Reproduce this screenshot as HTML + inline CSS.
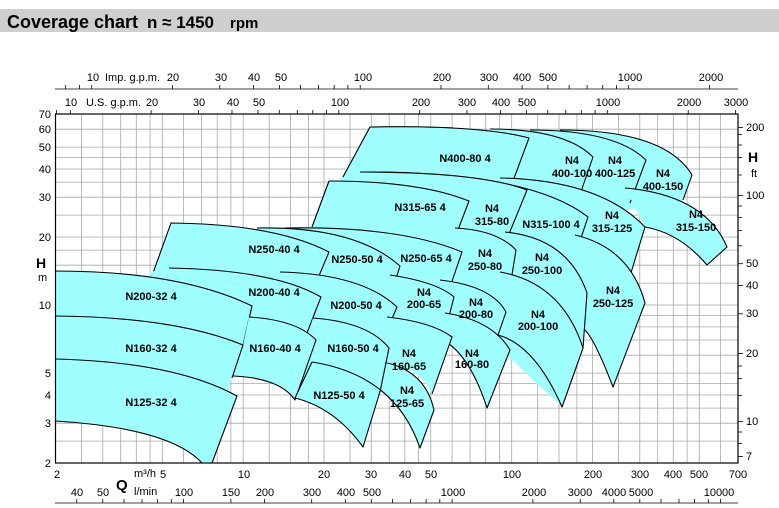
<!DOCTYPE html>
<html><head><meta charset="utf-8"><style>
html,body{margin:0;padding:0;background:#fff;}
svg{display:block;font-family:"Liberation Sans",Arial,sans-serif;}
.g line{stroke:#a8a8a8;stroke-width:0.8}
.f{fill:#9ffefe;stroke:none}
.s{fill:none;stroke:#000;stroke-width:1.1;stroke-linejoin:round}
.l text{font-size:11px;font-weight:bold;text-anchor:middle;fill:#000}
.t{font-size:11px;fill:#000}
.tm{font-size:11px;fill:#000;text-anchor:middle}
.te{font-size:11px;fill:#000;text-anchor:end}
</style></head><body>
<svg width="779" height="508" viewBox="0 0 779 508" xmlns="http://www.w3.org/2000/svg">
<rect x="0" y="9" width="779" height="23" fill="#cfcfcf"/>
<text x="7" y="28" font-size="18" font-weight="bold">Coverage chart</text>
<text x="147" y="28" font-size="17" font-weight="bold">n ≈ 1450</text>
<text x="230" y="28" font-size="15" font-weight="bold">rpm</text>

<g class="g">
<line x1="81.5" y1="114" x2="81.5" y2="463"/><line x1="102.8" y1="114" x2="102.8" y2="463"/><line x1="120.7" y1="114" x2="120.7" y2="463"/><line x1="136.3" y1="114" x2="136.3" y2="463"/><line x1="150.1" y1="114" x2="150.1" y2="463"/><line x1="162.3" y1="114" x2="162.3" y2="463"/><line x1="183.6" y1="114" x2="183.6" y2="463"/><line x1="201.6" y1="114" x2="201.6" y2="463"/><line x1="217.2" y1="114" x2="217.2" y2="463"/><line x1="230.9" y1="114" x2="230.9" y2="463"/><line x1="243.2" y1="114" x2="243.2" y2="463"/>
<line x1="269.2" y1="114" x2="269.2" y2="463"/><line x1="290.5" y1="114" x2="290.5" y2="463"/><line x1="308.4" y1="114" x2="308.4" y2="463"/><line x1="324" y1="114" x2="324" y2="463"/><line x1="350" y1="114" x2="350" y2="463"/><line x1="371.3" y1="114" x2="371.3" y2="463"/><line x1="389.2" y1="114" x2="389.2" y2="463"/><line x1="404.8" y1="114" x2="404.8" y2="463"/><line x1="418.6" y1="114" x2="418.6" y2="463"/><line x1="430.8" y1="114" x2="430.8" y2="463"/><line x1="452.1" y1="114" x2="452.1" y2="463"/><line x1="470.1" y1="114" x2="470.1" y2="463"/><line x1="485.7" y1="114" x2="485.7" y2="463"/><line x1="499.4" y1="114" x2="499.4" y2="463"/><line x1="511.7" y1="114" x2="511.7" y2="463"/>
<line x1="537.7" y1="114" x2="537.7" y2="463"/><line x1="559" y1="114" x2="559" y2="463"/><line x1="576.9" y1="114" x2="576.9" y2="463"/><line x1="592.5" y1="114" x2="592.5" y2="463"/><line x1="618.5" y1="114" x2="618.5" y2="463"/><line x1="639.8" y1="114" x2="639.8" y2="463"/><line x1="657.7" y1="114" x2="657.7" y2="463"/><line x1="673.3" y1="114" x2="673.3" y2="463"/><line x1="687.1" y1="114" x2="687.1" y2="463"/><line x1="699.3" y1="114" x2="699.3" y2="463"/><line x1="720.6" y1="114" x2="720.6" y2="463"/>
<line x1="55.5" y1="441.1" x2="738" y2="441.1"/><line x1="55.5" y1="423.2" x2="738" y2="423.2"/><line x1="55.5" y1="408.1" x2="738" y2="408.1"/><line x1="55.5" y1="395" x2="738" y2="395"/><line x1="55.5" y1="383.4" x2="738" y2="383.4"/><line x1="55.5" y1="373.1" x2="738" y2="373.1"/><line x1="55.5" y1="355.2" x2="738" y2="355.2"/><line x1="55.5" y1="340" x2="738" y2="340"/><line x1="55.5" y1="326.9" x2="738" y2="326.9"/><line x1="55.5" y1="315.4" x2="738" y2="315.4"/><line x1="55.5" y1="305" x2="738" y2="305"/><line x1="55.5" y1="283.1" x2="738" y2="283.1"/><line x1="55.5" y1="265.2" x2="738" y2="265.2"/><line x1="55.5" y1="250.1" x2="738" y2="250.1"/><line x1="55.5" y1="237" x2="738" y2="237"/><line x1="55.5" y1="215.1" x2="738" y2="215.1"/><line x1="55.5" y1="197.2" x2="738" y2="197.2"/><line x1="55.5" y1="182.1" x2="738" y2="182.1"/><line x1="55.5" y1="169" x2="738" y2="169"/><line x1="55.5" y1="157.4" x2="738" y2="157.4"/><line x1="55.5" y1="147.1" x2="738" y2="147.1"/><line x1="55.5" y1="129.2" x2="738" y2="129.2"/>
</g>

<g>
<path class="f" d="M560,130 Q665,130 692,175 L683,200 L600,215 Z"/><path class="s" d="M560,130 Q665,130 692,175 L683,200"/>
<path class="f" d="M530,130 Q615,130 646,160 L630,203 L560,230 Z"/><path class="s" d="M530,130 Q615,130 646,160 L630,203"/>
<path class="f" d="M490,129 Q565,129 593,157 L577,203 L500,230 Z"/><path class="s" d="M490,129 Q565,129 593,157 L577,203"/>
<path class="f" d="M370,127 Q480,125 529,138 L513,181 L340,230 L340,180 Z"/><path class="s" d="M370,127 Q480,125 529,138 L513,181"/>
<path class="f" d="M625,188 Q705,195 727,247 L707,265 Q680,233 645,227 Z"/><path class="s" d="M625,188 Q705,195 727,247 L707,265 Q680,233 645,227"/>
<path class="f" d="M500,178 Q600,180 645,227 L630,276 L560,270 Z"/><path class="s" d="M500,178 Q600,180 645,227 L630,276"/>
<path class="f" d="M365,172 Q530,172 588,217 L572,265 L470,270 Z"/><path class="s" d="M365,172 Q530,172 588,217 L572,265"/>
<path class="f" d="M360,172 Q480,172 527,190 L509,234 L430,260 Z"/><path class="s" d="M360,172 Q480,172 527,190 L509,234"/>
<path class="f" d="M329,181 Q420,181 469,201 L453,243 L305,245 L312,227 Z"/><path class="s" d="M329,181 Q420,181 469,201 L453,243"/>
<path class="f" d="M575,235 Q630,248 645,303 L613,387 Q595,340 585,330 L560,300 Z"/><path class="s" d="M575,235 Q630,248 645,303 L613,387 Q595,340 585,330"/>
<path class="f" d="M505,232 Q568,238 587,293 L583,348 L562,407 L480,330 Z"/><path class="s" d="M505,232 Q568,238 587,293 L583,348 L562,407"/>
<path class="f" d="M455,228 Q497,230 516,250 L506,312 L440,300 Z"/><path class="s" d="M455,228 Q497,230 516,250 L506,312"/>
<path class="f" d="M285,228 Q400,226 462,252 L448,293 L300,290 Z"/><path class="s" d="M285,228 Q400,226 462,252 L448,293"/>
<path class="f" d="M257,228 Q355,226 400,266 L387,307 L280,290 Z"/><path class="s" d="M257,228 Q355,226 400,266 L387,307"/>
<path class="f" d="M171,223 Q275,224 329,252 L313,290 L160,300 L153,273 Z"/><path class="s" d="M153,273 L171,223 Q275,224 329,252 L313,290"/>
<path class="f" d="M500,272 Q562,283 583,348 L562,407 Q535,345 498,335 Z"/><path class="s" d="M500,272 Q562,283 583,348 L562,407 Q535,345 498,335"/>
<path class="f" d="M440,280 Q492,286 506,312 L497,338 L440,340 Z"/><path class="s" d="M440,280 Q492,286 506,312 L497,338"/>
<path class="f" d="M390,275 Q437,282 454,297 L443,340 L380,340 Z"/><path class="s" d="M390,275 Q437,282 454,297 L443,340"/>
<path class="f" d="M280,272 Q362,274 397,307 L380,347 L300,340 Z"/><path class="s" d="M280,272 Q362,274 397,307 L380,347"/>
<path class="f" d="M169,268 Q275,270 321,297 L307,333 L250,317 L240,330 L150,300 L150,272 Z"/><path class="s" d="M169,268 Q275,270 321,297 L307,333"/>
<path class="f" d="M55,271 Q180,271 252,306 L243,345 L55,330 Z"/><path class="s" d="M55,271 Q180,271 252,306 L243,345"/>
<path class="f" d="M445,313 Q492,320 510,350 L487,408 Q470,355 443,340 Z"/><path class="s" d="M445,313 Q492,320 510,350 L487,408 Q470,355 443,340"/>
<path class="f" d="M383,362 Q425,370 434,410 L420,448 Q395,375 312,362 Z"/><path class="s" d="M383,362 Q425,370 434,410 L420,448 Q395,375 312,362"/>
<path class="f" d="M387,317 Q432,322 452,337 L432,394 Q420,366 383,362 L375,340 Z"/><path class="s" d="M387,317 Q432,322 452,337 L432,394"/>
<path class="f" d="M313,318 Q368,322 389,348 L380,392 L300,392 L300,362 Z"/><path class="s" d="M313,318 Q368,322 389,348 L380,392"/>
<path class="f" d="M249,317 Q297,320 316,340 L295,400 Q280,378 233,376 L243,345 Z"/><path class="s" d="M249,317 Q297,320 316,340 L295,400 Q280,378 233,376"/>
<path class="f" d="M55,316 Q175,317 243,345 L232,378 L226,398 L55,380 Z"/><path class="s" d="M55,316 Q175,317 243,345 L232,378"/>
<path class="f" d="M312,362 Q353.5,368.5 380.5,390 L363,447 Q335,408 295,398 Z"/><path class="s" d="M312,362 Q353.5,368.5 380.5,390 L363,447 Q335,408 295,398 L312,362"/>
<path class="f" d="M55,359 Q175,362 237,396 L212,463 L202,463 Q170,428 55,421 Z"/><path class="s" d="M55,359 Q175,362 237,396 L212,463 M202,463 Q170,428 55,421"/>
<path class="s" d="M370,127 L343,177"/>
<path class="s" d="M329,181 L312,227"/>
</g>

<rect x="55.5" y="114" width="682.5" height="349" fill="none" stroke="#000" stroke-width="1.2"/>

<g class="l">
<text x="465" y="162">N400-80 4</text>
<text x="572" y="164">N4</text><text x="572" y="177">400-100</text>
<text x="615" y="164">N4</text><text x="615" y="177">400-125</text>
<text x="663" y="177">N4</text><text x="663" y="190">400-150</text>
<text x="420" y="211">N315-65 4</text>
<text x="492" y="212">N4</text><text x="492" y="225">315-80</text>
<text x="551" y="228">N315-100 4</text>
<text x="612" y="219">N4</text><text x="612" y="232">315-125</text>
<text x="696" y="218">N4</text><text x="696" y="231">315-150</text>
<text x="274" y="253">N250-40 4</text>
<text x="357" y="263">N250-50 4</text>
<text x="426" y="262">N250-65 4</text>
<text x="485" y="257">N4</text><text x="485" y="270">250-80</text>
<text x="542" y="261">N4</text><text x="542" y="274">250-100</text>
<text x="613" y="294">N4</text><text x="613" y="307">250-125</text>
<text x="274" y="296">N200-40 4</text>
<text x="151" y="300">N200-32 4</text>
<text x="356" y="309">N200-50 4</text>
<text x="424" y="296">N4</text><text x="424" y="308">200-65</text>
<text x="476" y="306">N4</text><text x="476" y="318">200-80</text>
<text x="538" y="318">N4</text><text x="538" y="330">200-100</text>
<text x="151" y="352">N160-32 4</text>
<text x="275" y="352">N160-40 4</text>
<text x="353" y="352">N160-50 4</text>
<text x="409" y="357">N4</text><text x="409" y="370">160-65</text>
<text x="472" y="357">N4</text><text x="472" y="368">160-80</text>
<text x="151" y="406">N125-32 4</text>
<text x="339" y="399">N125-50 4</text>
<text x="407" y="394">N4</text><text x="407" y="407">125-65</text>
</g>

<g class="te">
<text x="51" y="118">70</text><text x="51" y="133">60</text><text x="51" y="151">50</text><text x="51" y="173">40</text><text x="51" y="201">30</text><text x="51" y="241">20</text><text x="51" y="309">10</text><text x="51" y="377">5</text><text x="51" y="399">4</text><text x="51" y="427">3</text><text x="51" y="467">2</text>
</g>
<text x="36" y="268" font-size="14" font-weight="bold">H</text>
<text x="38" y="281" class="t">m</text>

<g stroke="#000" stroke-width="0.8">
<line x1="738" y1="456.6" x2="743" y2="456.6"/><line x1="738" y1="443.5" x2="742" y2="443.5"/><line x1="738" y1="432" x2="742" y2="432"/><line x1="738" y1="421.6" x2="743" y2="421.6"/><line x1="738" y1="353.6" x2="743" y2="353.6"/><line x1="738" y1="313.8" x2="743" y2="313.8"/><line x1="738" y1="285.6" x2="743" y2="285.6"/><line x1="738" y1="263.7" x2="743" y2="263.7"/><line x1="738" y1="245.8" x2="742" y2="245.8"/><line x1="738" y1="230.6" x2="742" y2="230.6"/><line x1="738" y1="217.5" x2="742" y2="217.5"/><line x1="738" y1="206" x2="742" y2="206"/><line x1="738" y1="195.6" x2="743" y2="195.6"/><line x1="738" y1="127.6" x2="743" y2="127.6"/>
<line x1="738" y1="395.5" x2="742" y2="395.5"/><line x1="738" y1="378.5" x2="742" y2="378.5"/><line x1="738" y1="366" x2="742" y2="366"/>
<line x1="738" y1="175" x2="742" y2="175"/><line x1="738" y1="157.5" x2="742" y2="157.5"/><line x1="738" y1="145" x2="742" y2="145"/><line x1="738" y1="134.5" x2="742" y2="134.5"/>
</g>
<g class="t">
<text x="746" y="131">200</text><text x="746" y="199">100</text><text x="746" y="267">50</text><text x="746" y="289">40</text><text x="746" y="317">30</text><text x="746" y="357">20</text><text x="746" y="425">10</text><text x="746" y="460">7</text>
</g>
<text x="748" y="162" font-size="14" font-weight="bold">H</text>
<text x="751" y="177" class="t">ft</text>

<g class="tm">
<text x="57" y="478">2</text><text x="163" y="478">5</text><text x="244" y="478">10</text><text x="324" y="478">20</text><text x="371" y="478">30</text><text x="405" y="478">40</text><text x="431" y="478">50</text><text x="512" y="478">100</text><text x="593" y="478">200</text><text x="640" y="478">300</text><text x="673" y="478">400</text><text x="699" y="478">500</text><text x="738" y="478">700</text>
</g>
<text x="134" y="477" class="t">m³/h</text>
<text x="116" y="490" font-size="15" font-weight="bold">Q</text>
<text x="134" y="495" class="t">l/min</text>
<g class="tm">
<text x="77" y="496">40</text><text x="103" y="496">50</text><text x="184" y="496">100</text><text x="231" y="496">150</text><text x="265" y="496">200</text><text x="312" y="496">300</text><text x="346" y="496">400</text><text x="372" y="496">500</text><text x="453" y="496">1000</text><text x="534" y="496">2000</text><text x="580" y="496">3000</text><text x="614" y="496">4000</text><text x="641" y="496">5000</text><text x="719" y="496">10000</text>
</g>
<g stroke="#000" stroke-width="0.8">
<line x1="55" y1="503" x2="738" y2="503"/>
<line x1="76.8" y1="499" x2="76.8" y2="503"/><line x1="102.8" y1="499" x2="102.8" y2="503"/><line x1="124" y1="499" x2="124" y2="503"/><line x1="142" y1="499" x2="142" y2="503"/><line x1="157.6" y1="499" x2="157.6" y2="503"/><line x1="171.3" y1="499" x2="171.3" y2="503"/><line x1="183.6" y1="499" x2="183.6" y2="503"/><line x1="230.9" y1="499" x2="230.9" y2="503"/><line x1="264.4" y1="499" x2="264.4" y2="503"/><line x1="311.7" y1="499" x2="311.7" y2="503"/><line x1="345.3" y1="499" x2="345.3" y2="503"/><line x1="371.3" y1="499" x2="371.3" y2="503"/><line x1="392.5" y1="499" x2="392.5" y2="503"/><line x1="410.5" y1="499" x2="410.5" y2="503"/><line x1="426.1" y1="499" x2="426.1" y2="503"/><line x1="439.8" y1="499" x2="439.8" y2="503"/><line x1="452.1" y1="499" x2="452.1" y2="503"/><line x1="532.9" y1="499" x2="532.9" y2="503"/><line x1="580.2" y1="499" x2="580.2" y2="503"/><line x1="613.8" y1="499" x2="613.8" y2="503"/><line x1="639.8" y1="499" x2="639.8" y2="503"/><line x1="661" y1="499" x2="661" y2="503"/><line x1="679" y1="499" x2="679" y2="503"/><line x1="694.6" y1="499" x2="694.6" y2="503"/><line x1="708.3" y1="499" x2="708.3" y2="503"/><line x1="720.6" y1="499" x2="720.6" y2="503"/>
</g>

<g stroke="#000" stroke-width="0.8">
<line x1="55" y1="89" x2="738" y2="89"/>
<line x1="65.7" y1="85" x2="65.7" y2="89"/><line x1="79.4" y1="85" x2="79.4" y2="89"/><line x1="91.7" y1="85" x2="91.7" y2="89"/><line x1="172.5" y1="85" x2="172.5" y2="89"/><line x1="219.8" y1="85" x2="219.8" y2="89"/><line x1="253.6" y1="85" x2="253.6" y2="89"/><line x1="279.4" y1="85" x2="279.4" y2="89"/><line x1="300.6" y1="85" x2="300.6" y2="89"/><line x1="318.6" y1="85" x2="318.6" y2="89"/><line x1="334.2" y1="85" x2="334.2" y2="89"/><line x1="347.9" y1="85" x2="347.9" y2="89"/><line x1="360.2" y1="85" x2="360.2" y2="89"/><line x1="441" y1="85" x2="441" y2="89"/><line x1="488.3" y1="85" x2="488.3" y2="89"/><line x1="522.1" y1="85" x2="522.1" y2="89"/><line x1="547.9" y1="85" x2="547.9" y2="89"/><line x1="569.1" y1="85" x2="569.1" y2="89"/><line x1="587.1" y1="85" x2="587.1" y2="89"/><line x1="602.7" y1="85" x2="602.7" y2="89"/><line x1="616.4" y1="85" x2="616.4" y2="89"/><line x1="628.7" y1="85" x2="628.7" y2="89"/><line x1="709.5" y1="85" x2="709.5" y2="89"/>
</g>
<g class="tm">
<text x="93" y="81">10</text><text x="173" y="81">20</text><text x="221" y="81">30</text><text x="254" y="81">40</text><text x="281" y="81">50</text><text x="363" y="81">100</text><text x="442" y="81">200</text><text x="489" y="81">300</text><text x="522" y="81">400</text><text x="548" y="81">500</text><text x="630" y="81">1000</text><text x="711" y="81">2000</text>
</g>
<text x="105" y="81" class="t">Imp. g.p.m.</text>

<g stroke="#000" stroke-width="0.8">
<line x1="56.6" y1="110" x2="56.6" y2="114"/><line x1="70.3" y1="110" x2="70.3" y2="114"/><line x1="151.1" y1="110" x2="151.1" y2="114"/><line x1="198.4" y1="110" x2="198.4" y2="114"/><line x1="232" y1="110" x2="232" y2="114"/><line x1="258" y1="110" x2="258" y2="114"/><line x1="279.3" y1="110" x2="279.3" y2="114"/><line x1="297.3" y1="110" x2="297.3" y2="114"/><line x1="312.8" y1="110" x2="312.8" y2="114"/><line x1="326.6" y1="110" x2="326.6" y2="114"/><line x1="338.8" y1="110" x2="338.8" y2="114"/><line x1="419.7" y1="110" x2="419.7" y2="114"/><line x1="467" y1="110" x2="467" y2="114"/><line x1="500.5" y1="110" x2="500.5" y2="114"/><line x1="526.5" y1="110" x2="526.5" y2="114"/><line x1="547.8" y1="110" x2="547.8" y2="114"/><line x1="565.8" y1="110" x2="565.8" y2="114"/><line x1="581.3" y1="110" x2="581.3" y2="114"/><line x1="595.1" y1="110" x2="595.1" y2="114"/><line x1="607.3" y1="110" x2="607.3" y2="114"/><line x1="688.2" y1="110" x2="688.2" y2="114"/><line x1="735.5" y1="110" x2="735.5" y2="114"/>
</g>
<g class="tm">
<text x="71" y="106">10</text><text x="152" y="106">20</text><text x="199" y="106">30</text><text x="233" y="106">40</text><text x="259" y="106">50</text><text x="340" y="106">100</text><text x="421" y="106">200</text><text x="467" y="106">300</text><text x="501" y="106">400</text><text x="527" y="106">500</text><text x="608" y="106">1000</text><text x="689" y="106">2000</text><text x="736" y="106">3000</text>
</g>
<text x="86" y="106" class="t">U.S. g.p.m.</text>
</svg>
</body></html>
